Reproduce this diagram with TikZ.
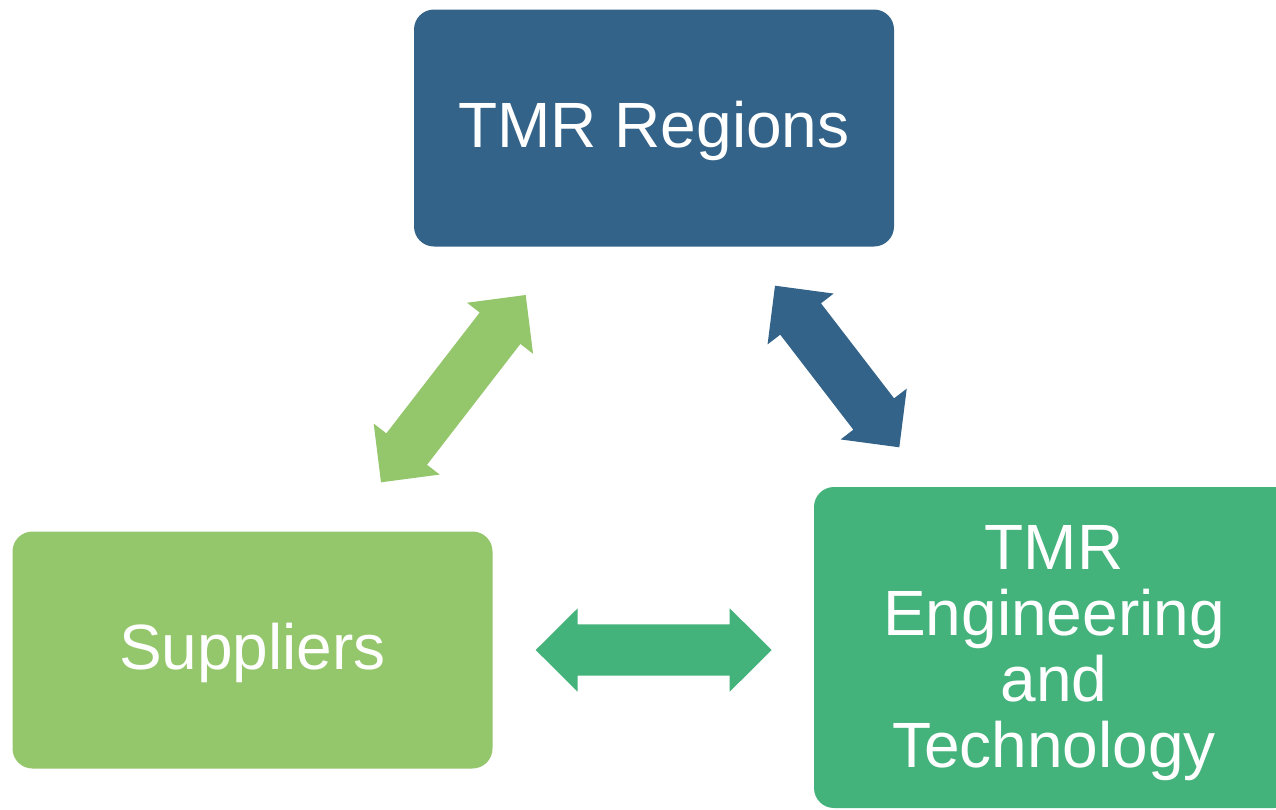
\documentclass[tikz,border=0pt]{standalone}
\usepackage{fontspec}
\setmainfont{Liberation Sans}
\usetikzlibrary{calc}
\definecolor{regblue}{RGB}{52,99,137}
\definecolor{supgreen}{RGB}{148,198,107}
\definecolor{enggreen}{RGB}{68,178,123}
% double block arrow between two named end points
\newcommand\blockarrow[3]{%
  \fill[#1] (#2)
    -- ($(#2)!42pt!(#3)!41.7pt!90:(#3)$)
    -- ($(#2)!42pt!(#3)!25.7pt!90:(#3)$)
    -- ($(#3)!42pt!(#2)!25.7pt!-90:(#2)$)
    -- ($(#3)!42pt!(#2)!41.7pt!-90:(#2)$)
    -- (#3)
    -- ($(#3)!42pt!(#2)!41.7pt!90:(#2)$)
    -- ($(#3)!42pt!(#2)!25.7pt!90:(#2)$)
    -- ($(#2)!42pt!(#3)!25.7pt!-90:(#3)$)
    -- ($(#2)!42pt!(#3)!41.7pt!-90:(#3)$)
    -- cycle;}
\begin{document}
\begin{tikzpicture}[x=1pt,y=-1pt,
  box/.style={rectangle, rounded corners=20pt, minimum width=480pt,
    minimum height=237pt, inner sep=0pt, text=white,
    font=\fontsize{64}{65.7}\selectfont},
  oneline/.style={text height=46pt, text depth=7pt}]
\useasboundingbox (0,0) rectangle (1276,809);
\clip (0,0) rectangle (1276,809);
\node[box, oneline, fill=regblue] (regions) at (654,128) {TMR Regions};
\node[box, oneline, fill=supgreen] (suppliers) at (252.5,650) {Suppliers};
\node[box, fill=enggreen, minimum height=321pt] (eng) at (1054,647.5)
  {\raisebox{-8pt}[\height][\depth]{\begin{tabular}{@{}c@{}}TMR\\Engineering\\and\\Technology\end{tabular}}};
\coordinate (s1) at (381,482.3);
\coordinate (s2) at (525.7,295);
\coordinate (b1) at (775,285.7);
\coordinate (b2) at (899.3,447.3);
\coordinate (g1) at (535.7,650);
\coordinate (g2) at (771.7,650);
\blockarrow{supgreen}{s1}{s2}
\blockarrow{regblue}{b1}{b2}
\blockarrow{enggreen}{g1}{g2}
\end{tikzpicture}
\end{document}
